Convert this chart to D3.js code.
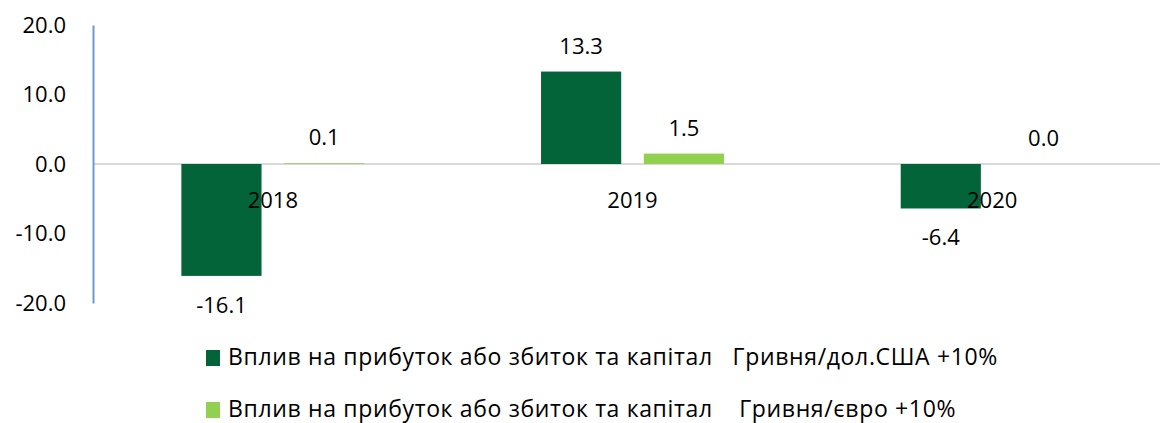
<!DOCTYPE html>
<meta charset="utf-8">
<style>
    body { margin: 0; background: #fff; }
    text {
        font-family: "Open Sans", sans-serif;
        font-size: 22px;
        fill: #000;
    }
    .legend text { font-size: 23px; letter-spacing: 0.65px; }
</style>
<svg id="svg" width="1160" height="423"></svg>
<script src="https://d3js.org/d3.v7.min.js"></script>
<script>

    // data
    var years = ["2018", "2019", "2020"];
    var usdImpact = [-16.1, 13.3, -6.4];
    var eurImpact = [0.1, 1.5, 0.0];
    var seriesNames = [
        "Вплив на прибуток або збиток та капітал   Гривня/дол.США +10%",
        "Вплив на прибуток або збиток та капітал    Гривня/євро +10%"
    ];
    var yTicks = [-20, -10, 0, 10, 20];

    var colors = ["#03643a", "#92d050"];

    var svg = d3.select("svg"),
        width = +svg.attr("width"),
        height = +svg.attr("height");

    // plain hyphen for negatives, like the original
    var fmt = function (v) { return d3.format(".1f")(v).replace("\u2212", "-"); };

    var y = d3.scaleLinear().domain([-20, 20]).range([303, 25]);

    var x0 = d3.scaleBand().domain(years).range([93, 1172]).paddingInner(0).paddingOuter(0);
    var x1 = d3.scaleBand().domain([0, 1]).range([0, x0.bandwidth()]).paddingInner(0.22).paddingOuter(0.86);

    // rows: one per year, with both series
    var rows = years.map(function (yr, i) {
        return { year: yr, values: [usdImpact[i], eurImpact[i]] };
    });

    // zero line
    svg.append("line")
        .attr("x1", 93).attr("x2", width)
        .attr("y1", y(0)).attr("y2", y(0))
        .attr("stroke", "#d9d9d9").attr("stroke-width", 2);

    // bars
    var groups = svg.append("g").selectAll("g")
        .data(rows)
        .enter().append("g")
        .attr("transform", function (d) { return "translate(" + x0(d.year) + ",0)"; });

    groups.selectAll("rect")
        .data(function (d) { return d.values.map(function (v, k) { return { k: k, v: v }; }); })
        .enter().append("rect")
        .attr("x", function (d) { return x1(d.k); })
        .attr("width", x1.bandwidth())
        .attr("y", function (d) { return y(Math.max(0, d.v)); })
        .attr("height", function (d) { return Math.abs(y(d.v) - y(0)); })
        .attr("fill", function (d) { return colors[d.k]; });

    // value labels
    groups.selectAll("text.val")
        .data(function (d) { return d.values.map(function (v, k) { return { k: k, v: v }; }); })
        .enter().append("text")
        .attr("class", "val")
        .attr("text-anchor", "middle")
        .attr("x", function (d) { return x1(d.k) + x1.bandwidth() / 2; })
        .attr("y", function (d) { return d.v >= 0 ? y(d.v) - 18 : y(d.v) + 37; })
        .text(function (d) { return fmt(d.v); });

    // category labels near zero line
    svg.append("g").selectAll("text")
        .data(years)
        .enter().append("text")
        .attr("text-anchor", "middle")
        .attr("x", function (d) { return x0(d) + x0.bandwidth() / 2; })
        .attr("y", y(0) + 44)
        .text(function (d) { return d; });

    // y axis
    var yAxis = svg.append("g")
        .attr("transform", "translate(93,0)")
        .call(d3.axisLeft(y).tickValues(yTicks).tickSize(0).tickPadding(27).tickFormat(fmt));
    yAxis.select(".domain").attr("stroke", "#6f97d2").attr("stroke-width", 2);
    yAxis.selectAll("text").style("font-size", "22px").attr("fill", "#000").attr("font-family", "Open Sans");

    // legend
    var legend = svg.append("g").attr("class", "legend")
        .selectAll("g")
        .data(seriesNames)
        .enter().append("g")
        .attr("transform", function (d, i) { return "translate(206," + (350 + i * 52) + ")"; });

    legend.append("rect")
        .attr("width", 14).attr("height", 16)
        .attr("fill", function (d, i) { return colors[i]; });

    legend.append("text")
        .attr("x", 22).attr("y", 15)
        .attr("xml:space", "preserve")
        .style("white-space", "pre")
        .text(function (d) { return d; });

</script>
